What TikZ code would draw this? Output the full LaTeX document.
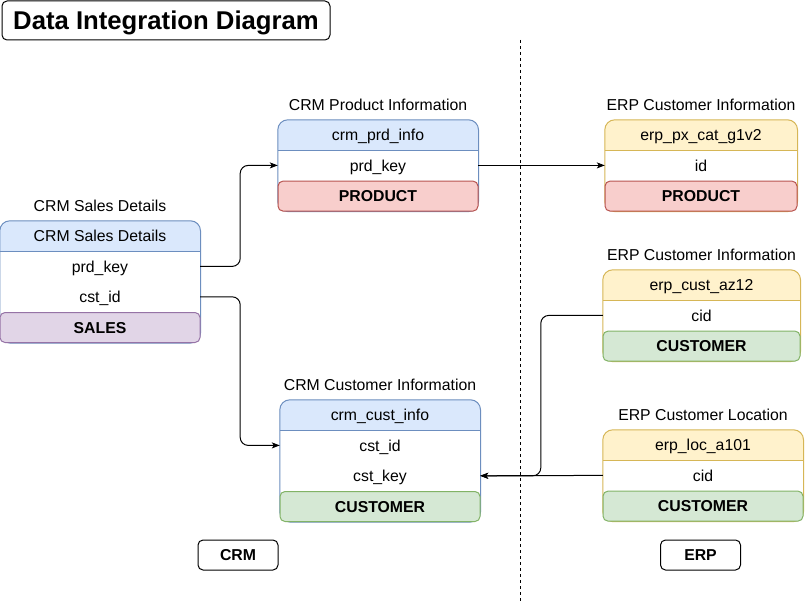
\documentclass[tikz,border=0pt]{standalone}
\usepackage{fontspec}
\setmainfont{Liberation Sans}
\usetikzlibrary{positioning,arrows.meta,backgrounds}
\definecolor{hdrblue}{HTML}{DAE8FC}
\definecolor{lineblue}{HTML}{6C8EBF}
\definecolor{hdryellow}{HTML}{FFF2CC}
\definecolor{lineyellow}{HTML}{D6B656}
\definecolor{fillred}{HTML}{F8CECC}
\definecolor{linered}{HTML}{B85450}
\definecolor{fillgreen}{HTML}{D5E8D4}
\definecolor{linegreen}{HTML}{82B366}
\definecolor{fillpurple}{HTML}{E1D5E7}
\definecolor{linepurple}{HTML}{9673A6}
\tikzstyle{fld}=[rectangle, minimum height=30pt, inner sep=0pt, text centered,
                 text height=12pt, text depth=0.7pt, font=\fontsize{15.8}{18}\selectfont]
\tikzstyle{ttl}=[fld]
\tikzstyle{ftr}=[rectangle, rounded corners=5pt, line width=1pt, minimum height=30pt,
                 inner sep=0pt, text centered, text height=12pt, text depth=0.7pt,
                 font=\fontsize{15.8}{18}\selectfont\bfseries]
\tikzstyle{ftrred}=[ftr, fill=fillred, draw=linered]
\tikzstyle{ftrgreen}=[ftr, fill=fillgreen, draw=linegreen]
\tikzstyle{ftrpurple}=[ftr, fill=fillpurple, draw=linepurple]
\tikzstyle{lbox}=[rectangle, rounded corners=5pt, draw=black, line width=1pt,
                  minimum width=80pt, minimum height=30pt, inner sep=0pt,
                  text height=12pt, text depth=0.7pt,
                  font=\fontsize{15.8}{18}\selectfont\bfseries]
\tikzstyle{conn}=[-{Stealth[length=8pt, width=6pt, inset=2pt]}, line width=1pt, rounded corners=8pt]
\begin{document}
\begin{tikzpicture}[x=1pt, y=-1pt, node distance=0pt]
\useasboundingbox (0,0) rectangle (806,602);

% title
\node (TITLE) [lbox, minimum width=328pt, minimum height=39pt, text height=19pt,
  text depth=0.6pt, font=\fontsize{25.7}{30}\selectfont\bfseries] at (166,20.5) {Data Integration Diagram};

% CRM side
\node (SAL) [fld, minimum width=200pt] at (100,236) {CRM Sales Details};
\node [ttl, above=of SAL] {CRM Sales Details};
\node (SALPRD) [fld, minimum width=200pt, below=of SAL] {prd\_key};
\node (SALCST) [fld, minimum width=200pt, below=of SALPRD] {cst\_id};
\node (SALFTR) [ftrpurple, minimum width=200pt, below=of SALCST] {SALES};

\node (PRD) [fld, minimum width=200pt] at (378,135) {crm\_prd\_info};
\node [ttl, above=of PRD] {CRM Product Information};
\node (PRDKEY) [fld, minimum width=200pt, below=of PRD] {prd\_key};
\node (PRDFTR) [ftrred, minimum width=200pt, below=of PRDKEY] {PRODUCT};

\node (CCU) [fld, minimum width=200pt] at (380,415) {crm\_cust\_info};
\node [ttl, above=of CCU] {CRM Customer Information};
\node (CCUID) [fld, minimum width=200pt, below=of CCU] {cst\_id};
\node (CCUKEY) [fld, minimum width=200pt, below=of CCUID] {cst\_key};
\node (CCUFTR) [ftrgreen, minimum width=200pt, below=of CCUKEY] {CUSTOMER};

% ERP side
\node (PXC) [fld, minimum width=192pt] at (701,135) {erp\_px\_cat\_g1v2};
\node [ttl, above=of PXC] {ERP Customer Information};
\node (PXCID) [fld, minimum width=192pt, below=of PXC] {id};
\node (PXCFTR) [ftrred, minimum width=192pt, below=of PXCID] {PRODUCT};

\node (AZ) [fld, minimum width=197pt] at (701.5,285) {erp\_cust\_az12};
\node [ttl, above=of AZ] {ERP Customer Information};
\node (AZCID) [fld, minimum width=197pt, below=of AZ] {cid};
\node (AZFTR) [ftrgreen, minimum width=197pt, below=of AZCID] {CUSTOMER};

\node (LOC) [fld, minimum width=200pt] at (703,445) {erp\_loc\_a101};
\node [ttl, above=of LOC] {ERP Customer Location};
\node (LOCCID) [fld, minimum width=200pt, below=of LOC] {cid};
\node (LOCFTR) [ftrgreen, minimum width=200pt, below=of LOCCID] {CUSTOMER};

\node (CRM) [lbox] at (238,555) {CRM};
\node (ERP) [lbox] at (700.5,555) {ERP};

% table frames
\begin{scope}[on background layer]
\foreach \h/\f/\cf/\cl in {SAL/SALFTR/hdrblue/lineblue, PRD/PRDFTR/hdrblue/lineblue,
    CCU/CCUFTR/hdrblue/lineblue, PXC/PXCFTR/hdryellow/lineyellow,
    AZ/AZFTR/hdryellow/lineyellow, LOC/LOCFTR/hdryellow/lineyellow}{
  \fill[white, rounded corners=10pt] (\h.north west) rectangle (\f.south east);
  \fill[\cf] (\h.south west) [rounded corners=10pt] -- (\h.north west) -- (\h.north east)
    [sharp corners] -- (\h.south east) -- cycle;
  \draw[\cl, line width=1pt] (\h.south west) -- (\h.south east);
  \draw[\cl, line width=1pt, rounded corners=10pt] (\h.north west) rectangle (\f.south east);
}
\end{scope}

% divider
\coordinate (DTOP) at (520,40);
\coordinate (DBOT) at (520,602);
\draw[line width=1pt, dash pattern=on 3pt off 3pt] (DTOP) -- (DBOT);

% links
\draw[conn] (SALPRD.east) -- ++(40,0) |- (PRDKEY.west);
\draw[conn] (SALCST.east) -- ++(40,0) |- (CCUID.west);
\draw[conn] (PRDKEY.east) -- (PXCID.west);
\draw[conn] (AZCID.west) -- ++(-62,0) |- (CCUKEY.east);
\draw[conn] (LOCCID.west) -- (CCUKEY.east);

\end{tikzpicture}
\end{document}
